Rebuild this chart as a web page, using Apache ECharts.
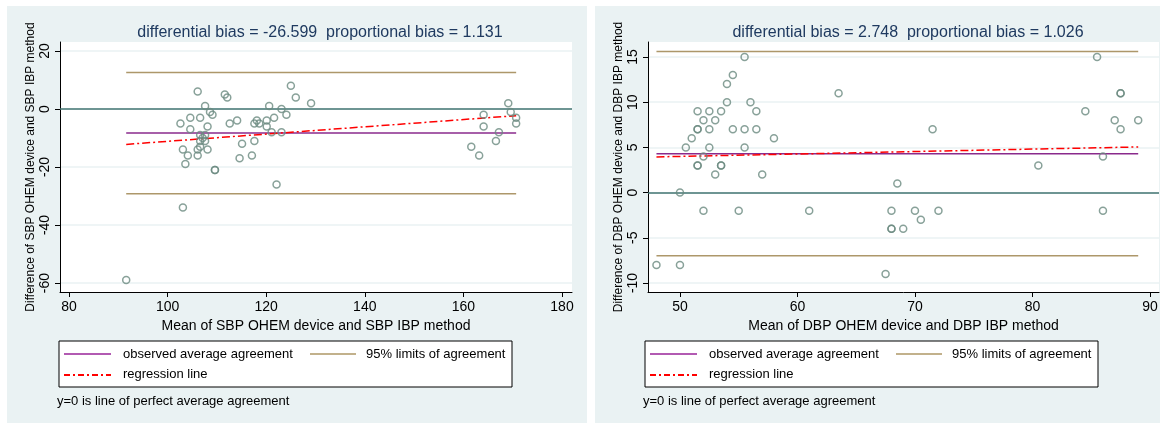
<!DOCTYPE html>
<html>
<head>
<meta charset="utf-8">
<script src="https://cdn.jsdelivr.net/npm/echarts@6/dist/echarts.min.js"></script>
<style>
  html, body { margin: 0; padding: 0; background: #fff; }
  #chart { width: 1165px; height: 423px; }
</style>
</head>
<body>
<div id="chart"></div>
<script>
// SBP panel: mean of the two methods (x) and their difference (y)
const sbpMean = [91.6, 102.6, 103.1, 103.6, 103.1, 104.1, 104.6, 104.6, 106.1, 106.6,
  106.1, 106.1, 106.6, 107.6, 106.6, 107.6, 107.1, 106.6, 108.1, 107.6,
  108.1, 108.6, 109.1, 109.6, 109.6, 111.6, 112.1, 112.6, 114.1, 114.6,
  115.1, 117.1, 117.6, 117.6, 118.1, 118.6, 120.1, 120.1, 120.6, 121.1,
  121.6, 122.1, 123.1, 123.1, 124.1, 125.0, 126.0, 129.1, 161.6, 163.2,
  164.1, 164.1, 166.6, 167.2, 169.1, 169.6, 170.7, 170.7];
const sbpDiff = [-59, -5, -14, -19, -34, -16, -3, -7, 6, -3,
  -14, -16, -9, -9, -11, -11, -10, -13, -14, 1,
  -6, -1, -2, -21, -21, 5, 4, -5, -4, -17,
  -12, -16, -5, -11, -4, -5, -4, -6, 1, -8,
  -3, -26, 0, -8, -2, 8, 4, 2, -13, -16,
  -2, -6, -11, -8, 2, -1, -3, -5];
const sbpBias = -8.3;
const sbpLimits = [12.6, -29.2];
const sbpRegression = [-12.2, -2.3];   // at min and max of sbpMean

// DBP panel
const dbpMean = [48, 50, 50, 50.5, 51, 51.5, 51.5, 51.5, 51.5, 51.5,
  52, 52, 52, 52.5, 52.5, 52.5, 53, 53, 53.5, 53.5,
  53.5, 54, 54, 54.5, 54.5, 55, 55.5, 55.5, 55.5, 56,
  56.5, 56.5, 57, 58, 61, 63.5, 67.5, 68, 68, 68,
  68.5, 69, 70, 70.5, 71.5, 72, 80.5, 84.5, 85.5, 86,
  86, 87, 87.5, 87.5, 87.5, 89];
const dbpDiff = [-8, -8, 0, 5, 6, 7, 7, 9, 3, 3,
  8, 4, -2, 9, 7, 5, 8, 2, 9, 3,
  3, 12, 10, 13, 7, -2, 15, 7, 5, 10,
  9, 7, 2, 6, -2, 11, -9, -2, -4, -4,
  1, -4, -2, -3, 7, -2, 3, 9, 15, 4,
  -2, 8, 11, 11, 7, 8];
const dbpBias = 4.3;
const dbpLimits = [15.6, -7.0];
const dbpRegression = [3.95, 5.05];

const sbpXTicks = [80, 100, 120, 140, 160, 180];
const sbpYTicks = [-60, -40, -20, 0, 20];
const dbpXTicks = [50, 60, 70, 80, 90];
const dbpYTicks = [-10, -5, 0, 5, 10, 15];

const sbpTitle = "differential bias = -26.599  proportional bias = 1.131";
const dbpTitle = "differential bias = 2.748  proportional bias = 1.026";

const FONT = "'Liberation Sans', Arial, sans-serif";
const BG = "#eaf2f3";
const POINT = "#6a8a80";
const BIAS = "#8a2a8c";
const LIMIT = "#ad976a";
const ZERO = "#437472";

function pairs(xs, ys) {
  return xs.map((x, i) => [x, ys[i]]);
}

function axisPair(gridIndex, xName, yName, xr, yr, xt, yt) {
  const x = {
    type: "value", gridIndex, min: xr[0], max: xr[1],
    name: xName, nameLocation: "middle", nameGap: 24,
    nameTextStyle: { fontFamily: FONT, fontSize: 14, color: "#000" },
    axisLine: { show: true, onZero: false, lineStyle: { color: "#000", width: 1 } },
    axisTick: { show: true, length: 5, customValues: xt, lineStyle: { color: "#000" } },
    axisLabel: { customValues: xt, margin: 8, fontFamily: FONT, fontSize: 14, color: "#000" },
    splitLine: { show: false }
  };
  const y = {
    type: "value", gridIndex, min: yr[0], max: yr[1],
    name: yName, nameLocation: "middle", nameGap: 23, nameRotate: 90,
    nameTextStyle: { fontFamily: FONT, fontSize: 12, color: "#000" },
    axisLine: { show: true, onZero: false, lineStyle: { color: "#000", width: 1 } },
    axisTick: { show: true, length: 5, customValues: yt, lineStyle: { color: "#000" } },
    axisLabel: { customValues: yt, rotate: 90, margin: 8, fontFamily: FONT, fontSize: 14, color: "#000" },
    splitLine: { show: true, lineStyle: { color: BG, width: 1.5 } }
  };
  return [x, y];
}

function panelSeries(idx, xs, ys, bias, limits, reg) {
  const lo = Math.min(...xs), hi = Math.max(...xs);
  return [
    {
      type: "scatter", xAxisIndex: idx, yAxisIndex: idx, z: 5,
      data: pairs(xs, ys), symbol: "circle", symbolSize: 7,
      itemStyle: { color: "rgba(0,0,0,0)", borderColor: POINT, borderWidth: 1.5 },
      markLine: {
        silent: true, symbol: "none", label: { show: false },
        lineStyle: { color: ZERO, width: 1.5, type: "solid" },
        data: [{ yAxis: 0 }]
      }
    },
    {
      type: "line", xAxisIndex: idx, yAxisIndex: idx, showSymbol: false, z: 3,
      data: [[lo, limits[0]], [hi, limits[0]]],
      lineStyle: { color: LIMIT, width: 1.5 }
    },
    {
      type: "line", xAxisIndex: idx, yAxisIndex: idx, showSymbol: false, z: 3,
      data: [[lo, limits[1]], [hi, limits[1]]],
      lineStyle: { color: LIMIT, width: 1.5 }
    },
    {
      type: "line", xAxisIndex: idx, yAxisIndex: idx, showSymbol: false, z: 3,
      data: [[lo, bias], [hi, bias]],
      lineStyle: { color: BIAS, width: 1.5 }
    },
    {
      type: "line", xAxisIndex: idx, yAxisIndex: idx, showSymbol: false, z: 4,
      data: [[lo, reg[0]], [hi, reg[1]]],
      lineStyle: { color: "#ff0000", width: 1.5, type: [8, 3, 2, 3] }
    }
  ];
}

function legendBlock(x0) {
  const t = (x, y, s, size) => ({
    type: "text", left: x, top: y,
    style: { text: s, fontFamily: FONT, fontSize: size || 13, fill: "#000" }
  });
  const seg = (x1, y, x2, color, dash) => ({
    type: "line", shape: { x1, y1: y, x2, y2: y },
    style: { stroke: color, lineWidth: 2, lineDash: dash || null }
  });
  return [
    { type: "rect", shape: { x: x0, y: 341, width: 453, height: 46 },
      style: { fill: "#fff", stroke: "#000", lineWidth: 1 } },
    seg(x0 + 5, 354, x0 + 52, "#b25ab2"),
    t(x0 + 64, 348, "observed average agreement"),
    seg(x0 + 251, 354, x0 + 297, "#c2b18c"),
    t(x0 + 307, 348, "95% limits of agreement"),
    seg(x0 + 5, 375, x0 + 52, "#ff0000", [6, 3, 2, 3]),
    t(x0 + 64, 368, "regression line"),
    t(x0 - 2, 395, "y=0 is line of perfect average agreement")
  ];
}

const [sx, sy] = axisPair(0, "Mean of SBP OHEM device and SBP IBP method",
  "Difference of SBP OHEM device and SBP IBP method",
  [78.17, 182.03], [-63.1, 23.1], sbpXTicks, sbpYTicks);
const [dx, dy] = axisPair(1, "Mean of DBP OHEM device and DBP IBP method",
  "Difference of DBP OHEM device and DBP IBP method",
  [47.28, 90.77], [-11.0, 16.66], dbpXTicks, dbpYTicks);

const chart = echarts.init(document.getElementById("chart"), null, { renderer: "canvas" });
chart.setOption({
  animation: false,
  backgroundColor: "#fff",
  title: [
    { text: sbpTitle, left: 315, top: 20, textAlign: "center",
      textStyle: { fontFamily: FONT, fontSize: 16, fontWeight: "normal", color: "#1f3a60" } },
    { text: dbpTitle, left: 903, top: 20, textAlign: "center",
      textStyle: { fontFamily: FONT, fontSize: 16, fontWeight: "normal", color: "#1f3a60" } }
  ],
  graphic: [
    { type: "rect", z: -10, shape: { x: 7, y: 6, width: 580, height: 417 }, style: { fill: BG } },
    { type: "rect", z: -10, shape: { x: 595, y: 6, width: 565, height: 417 }, style: { fill: BG } },
    { type: "rect", z: -9, shape: { x: 60, y: 42, width: 512, height: 250 }, style: { fill: "#fff" } },
    { type: "rect", z: -9, shape: { x: 648, y: 42, width: 511, height: 250 }, style: { fill: "#fff" } },
    ...legendBlock(59),
    ...legendBlock(645)
  ],
  grid: [
    { left: 60, top: 42, width: 512, height: 250, containLabel: false },
    { left: 648, top: 42, width: 511, height: 250, containLabel: false }
  ],
  xAxis: [sx, dx],
  yAxis: [sy, dy],
  series: [
    ...panelSeries(0, sbpMean, sbpDiff, sbpBias, sbpLimits, sbpRegression),
    ...panelSeries(1, dbpMean, dbpDiff, dbpBias, dbpLimits, dbpRegression)
  ]
});
</script>
</body>
</html>
